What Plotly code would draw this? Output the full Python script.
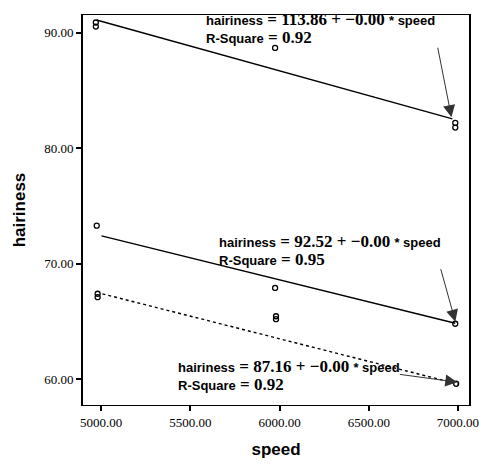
import plotly.graph_objects as go

# ---- data ----
top_speed = [4970, 4970, 5975, 6985, 6985]
top_hair = [90.9, 90.55, 88.7, 82.2, 81.8]
mid_speed = [4975, 5975, 6985]
mid_hair = [73.3, 67.9, 64.8]
bot_speed = [4980, 4980, 5980, 5980, 6990]
bot_hair = [67.4, 67.1, 65.45, 65.2, 59.6]

# fitted regression lines (end points)
top_fit_x = [4974, 6969]
top_fit_y = [91.12, 82.55]
mid_fit_x = [5002, 6985]
mid_fit_y = [72.41, 64.84]
bot_fit_x = [5007, 7002]
bot_fit_y = [67.39, 59.57]

intercepts = ["113.86", "92.52", "87.16"]
slopes = ["\u22120.00", "\u22120.00", "\u22120.00"]
r_squares = ["0.92", "0.95", "0.92"]

x_ticks = [5000, 5500, 6000, 6500, 7000]
x_tick_text = ["5000.00", "5500.00", "6000.00", "6500.00", "7000.00"]
y_ticks = [60, 70, 80, 90]
y_tick_text = ["60.00", "70.00", "80.00", "90.00"]

W, H = 489, 466
L, R, T, B = 83, 10, 15, 58
PW, PH = W - L - R, H - T - B


def px(x):
    return (x - L) / PW


def py(y):
    return (H - B - y) / PH


SANS = "font-family:'Liberation Sans';font-size:13px;font-weight:bold"
SERIF = "font-family:'Liberation Serif';font-size:17px;font-weight:bold"


def sans(t):
    return "<span style=\"%s\">%s</span>" % (SANS, t)


def serif(t):
    return "<span style=\"%s\">%s</span>" % (SERIF, t)


fig = go.Figure()
mk = dict(symbol="circle-open", size=5, color="black", line=dict(width=1.3))
for xs, ys in [(top_speed, top_hair), (mid_speed, mid_hair), (bot_speed, bot_hair)]:
    fig.add_trace(go.Scatter(x=xs, y=ys, mode="markers", marker=mk, showlegend=False))

fig.add_trace(go.Scatter(x=top_fit_x, y=top_fit_y, mode="lines",
                         line=dict(color="black", width=1.4), showlegend=False))
fig.add_trace(go.Scatter(x=mid_fit_x, y=mid_fit_y, mode="lines",
                         line=dict(color="black", width=1.4), showlegend=False))
fig.add_trace(go.Scatter(x=bot_fit_x, y=bot_fit_y, mode="lines",
                         line=dict(color="black", width=1.4, dash="dot"), showlegend=False))

annos = []
text_pos = [(207, 19.5, 37.5), (220, 243, 261), (178, 369, 387)]
afont = dict(family="Liberation Sans", size=13, color="black")
for a, b, r2, (x0, y1, y2) in zip(intercepts, slopes, r_squares, text_pos):
    l1 = sans("hairiness") + serif(" = %s + %s ") % (a, b) + sans("* speed")
    l2 = sans("R-Square") + serif(" = %s" % r2)
    annos.append(dict(xref="paper", yref="paper", x=px(x0), y=py(y1), text=l1,
                      showarrow=False, xanchor="left", yanchor="middle", font=afont))
    annos.append(dict(xref="paper", yref="paper", x=px(x0), y=py(y2), text=l2,
                      showarrow=False, xanchor="left", yanchor="middle", font=afont))

arrows = [((461, 118), (447, 47)), ((465, 324), (450, 270)), ((467, 385), (408, 377))]
for (tx, ty), (sx, sy) in arrows:
    annos.append(dict(xref="paper", yref="paper", x=px(tx), y=py(ty), text="",
                      showarrow=True, ax=sx - tx, ay=sy - ty, arrowhead=2, arrowsize=2.4,
                      arrowwidth=1, arrowcolor="#333333"))

fig.update_layout(
    width=W, height=H,
    margin=dict(l=L, r=R, t=T, b=B),
    paper_bgcolor="white", plot_bgcolor="white",
    annotations=annos,
    xaxis=dict(range=[4898, 7062], tickvals=x_ticks, ticktext=x_tick_text,
               showgrid=False, zeroline=False, showline=True, mirror=True,
               linecolor="black", linewidth=1.3, ticks="outside", ticklen=5, tickwidth=2,
               tickcolor="black",
               tickfont=dict(family="Liberation Serif", size=13, color="black"),
               title=dict(text="<b>speed</b>", standoff=14,
                          font=dict(family="Liberation Sans", size=17, color="black"))),
    yaxis=dict(range=[57.76, 91.55], tickvals=y_ticks, ticktext=y_tick_text,
               showgrid=False, zeroline=False, showline=True, mirror=True,
               linecolor="black", linewidth=1.6, ticks="outside", ticklen=5, tickwidth=2,
               tickcolor="black",
               tickfont=dict(family="Liberation Serif", size=13, color="black"),
               title=dict(text="<b>hairiness</b>", standoff=14,
                          font=dict(family="Liberation Sans", size=17, color="black"))),
)

fig.write_html("out.html")
